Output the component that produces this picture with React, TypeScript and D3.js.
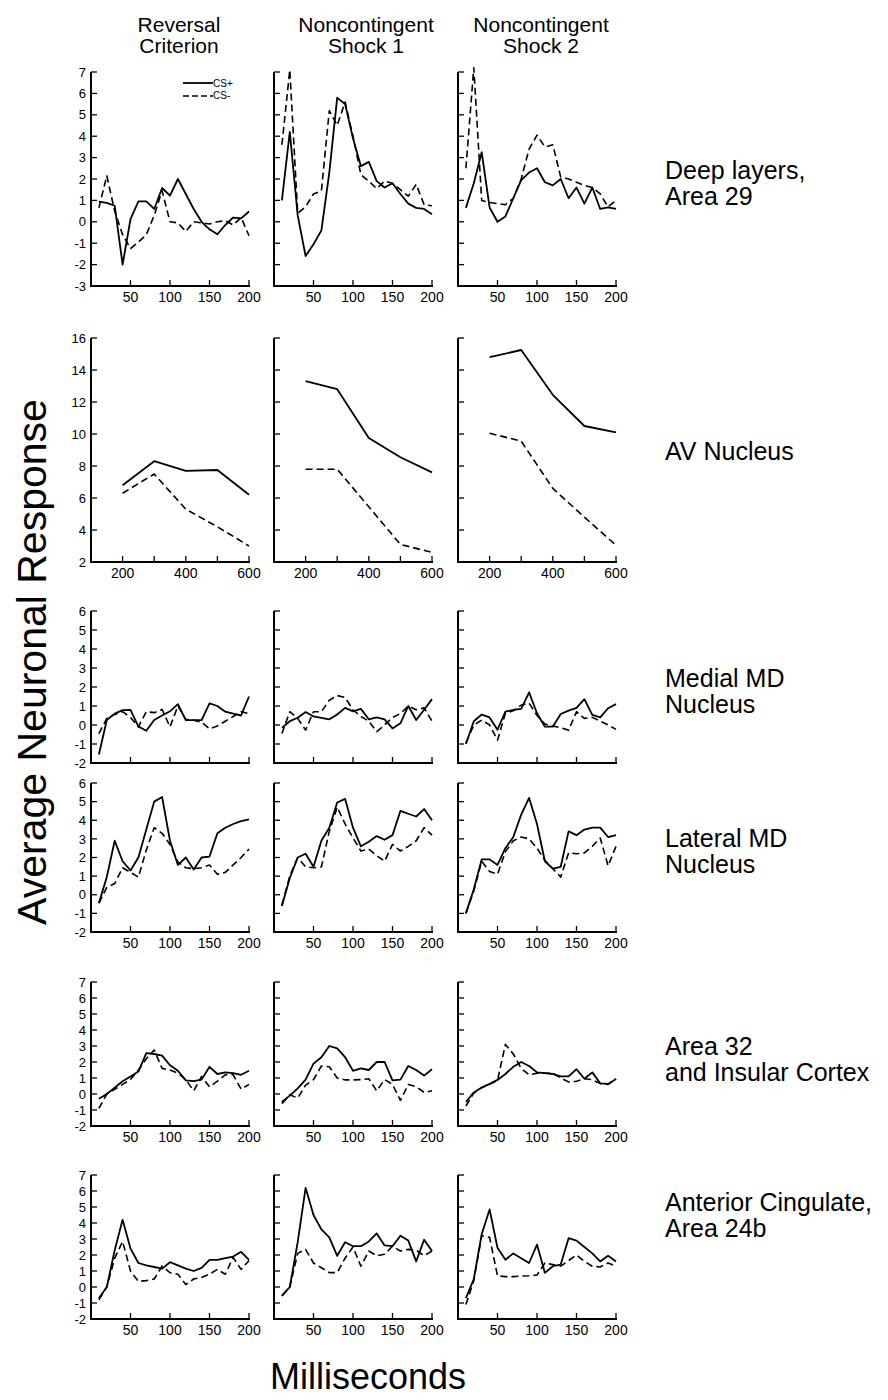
import React from 'react';
import * as d3 from 'd3';

// Time bins (ms after CS onset) for the short-latency panels
const msBins = [10, 20, 30, 40, 50, 60, 70, 80, 90, 100, 110, 120, 130, 140, 150, 160, 170, 180, 190, 200];
// Time bins (ms) for the AV nucleus panels
const avBins = [200, 300, 400, 500, 600];

const msTicks = [50, 100, 150, 200];
const avTicks = [200, 300, 400, 500, 600];
const avTickLabels = [200, 400, 600];

const columnTitles = [
  ['Reversal', 'Criterion'],
  ['Noncontingent', 'Shock 1'],
  ['Noncontingent', 'Shock 2'],
];

const rowLabels = [
  ['Deep layers,', 'Area 29'],
  ['AV Nucleus'],
  ['Medial MD', 'Nucleus'],
  ['Lateral MD', 'Nucleus'],
  ['Area 32', 'and Insular Cortex'],
  ['Anterior Cingulate,', 'Area 24b'],
];

// Deep layers, Area 29
const a29RevPlus = [0.94, 0.88, 0.75, -2.0, 0.12, 0.95, 0.95, 0.6, 1.58, 1.22, 2.0, 1.3, 0.6, 0.0, -0.35, -0.58, -0.15, 0.2, 0.16, 0.48];
const a29RevMinus = [0.65, 2.15, 0.5, -0.6, -1.25, -0.95, -0.6, 0.3, 1.45, 0.0, -0.05, -0.45, 0.0, -0.05, -0.1, 0.0, 0.05, -0.15, 0.2, -0.65];
const a29S1Plus = [1.0, 4.2, 0.3, -1.6, -1.05, -0.4, 2.3, 5.8, 5.5, 3.9, 2.6, 2.8, 1.9, 1.6, 1.8, 1.3, 0.85, 0.65, 0.6, 0.35];
const a29S1Minus = [3.6, 7.1, 0.4, 0.7, 1.3, 1.45, 5.2, 4.5, 5.6, 4.0, 2.2, 1.9, 1.55, 1.9, 1.8, 1.5, 1.2, 1.75, 0.8, 0.75];
const a29S2Plus = [0.65, 1.8, 3.25, 0.67, 0.0, 0.25, 1.1, 1.95, 2.3, 2.5, 1.85, 1.7, 2.0, 1.1, 1.6, 0.85, 1.6, 0.6, 0.67, 0.6];
const a29S2Minus = [2.5, 7.2, 1.0, 0.9, 0.85, 0.8, 1.1, 2.0, 3.4, 4.05, 3.5, 3.6, 2.1, 2.0, 1.85, 1.7, 1.6, 1.3, 0.7, 1.0];

// AV Nucleus
const avRevPlus = [6.8, 8.3, 7.7, 7.75, 6.2];
const avRevMinus = [6.3, 7.5, 5.3, 4.2, 3.0];
const avS1Plus = [13.3, 12.8, 9.75, 8.55, 7.6];
const avS1Minus = [7.8, 7.8, 5.45, 3.1, 2.6];
const avS2Plus = [14.8, 15.25, 12.45, 10.5, 10.1];
const avS2Minus = [10.05, 9.55, 6.6, 4.8, 3.05];

// Medial MD Nucleus
const mmdRevPlus = [-1.55, 0.26, 0.6, 0.78, 0.8, -0.08, -0.3, 0.26, 0.5, 0.72, 1.1, 0.26, 0.26, 0.26, 1.14, 1.0, 0.7, 0.6, 0.5, 1.5];
const mmdRevMinus = [-0.45, 0.35, 0.55, 0.7, 0.4, -0.1, 0.7, 0.65, 0.82, -0.1, 1.0, 0.3, 0.25, 0.15, -0.2, -0.05, 0.2, 0.45, 0.7, 0.6];
const mmdS1Plus = [-0.15, 0.2, 0.38, 0.68, 0.45, 0.38, 0.3, 0.55, 0.9, 0.72, 0.85, 0.3, 0.4, 0.3, -0.18, 0.09, 1.0, 0.26, 0.8, 1.36];
const mmdS1Minus = [-0.45, 0.7, 0.35, -0.27, 0.7, 0.7, 1.3, 1.55, 1.45, 0.8, 0.45, 0.2, -0.35, 0.0, 0.4, 0.6, 1.0, 0.8, 0.9, 0.2];
const mmdS2Plus = [-1.0, 0.2, 0.55, 0.4, -0.25, 0.7, 0.8, 0.85, 1.72, 0.62, -0.09, -0.09, 0.58, 0.76, 0.9, 1.36, 0.53, 0.4, 0.88, 1.1];
const mmdS2Minus = [-0.95, 0.0, 0.26, 0.0, -0.8, 0.62, 0.75, 1.05, 1.15, 0.5, 0.05, -0.05, -0.15, -0.27, 0.7, 0.35, 0.4, 0.2, 0.0, -0.23];

// Lateral MD Nucleus
const lmdRevPlus = [-0.45, 0.95, 2.9, 1.8, 1.3, 2.0, 3.5, 5.0, 5.25, 2.9, 1.6, 2.0, 1.35, 2.0, 2.05, 3.3, 3.6, 3.8, 3.95, 4.05];
const lmdRevMinus = [-0.45, 0.4, 0.6, 1.45, 1.2, 0.95, 2.4, 3.6, 3.3, 2.7, 1.75, 1.45, 1.4, 1.45, 1.6, 1.1, 1.2, 1.6, 2.0, 2.45];
const lmdS1Plus = [-0.6, 0.9, 2.0, 2.2, 1.5, 2.9, 3.6, 4.95, 5.15, 3.6, 2.6, 2.85, 3.15, 2.95, 3.2, 4.5, 4.35, 4.2, 4.6, 4.0];
const lmdS1Minus = [-0.55, 1.0, 2.0, 1.5, 1.45, 1.5, 3.4, 4.7, 3.8, 3.05, 2.35, 2.45, 2.1, 1.8, 2.7, 2.35, 2.6, 2.9, 3.6, 3.2];
const lmdS2Plus = [-1.0, 0.3, 1.9, 1.9, 1.6, 2.5, 3.1, 4.3, 5.2, 3.8, 1.8, 1.4, 1.5, 3.4, 3.2, 3.5, 3.6, 3.6, 3.1, 3.2];
const lmdS2Minus = [-1.0, 0.2, 1.8, 1.25, 1.1, 2.3, 2.9, 3.1, 3.0, 2.5, 1.85, 1.4, 0.95, 2.25, 2.2, 2.25, 2.6, 3.05, 1.55, 2.6];

// Area 32 and Insular Cortex
const a32RevPlus = [-0.3, 0.0, 0.4, 0.8, 1.1, 1.4, 2.55, 2.5, 2.4, 1.8, 1.45, 0.85, 0.8, 0.9, 1.7, 1.25, 1.35, 1.3, 1.2, 1.45];
const a32RevMinus = [-0.9, 0.0, 0.3, 0.6, 0.9, 1.5, 2.2, 2.75, 1.6, 1.5, 1.3, 0.9, 0.2, 1.1, 0.45, 0.8, 1.2, 1.2, 0.3, 0.6];
const a32S1Plus = [-0.5, -0.1, 0.35, 0.9, 1.9, 2.3, 3.0, 2.85, 2.3, 1.45, 1.6, 1.5, 2.0, 2.0, 0.85, 0.9, 1.75, 1.5, 1.15, 1.55];
const a32S1Minus = [-0.6, -0.05, -0.25, 0.55, 0.9, 1.75, 1.7, 1.0, 0.88, 0.88, 0.9, 0.95, 0.2, 0.9, 0.6, -0.4, 0.6, 0.45, 0.1, 0.2];
const a32S2Plus = [-0.5, 0.1, 0.4, 0.63, 0.88, 1.25, 1.7, 2.0, 1.75, 1.35, 1.3, 1.25, 1.1, 1.1, 1.55, 0.95, 1.35, 0.67, 0.63, 0.94];
const a32S2Minus = [-0.75, 0.05, 0.4, 0.6, 0.85, 3.1, 2.5, 1.6, 1.2, 1.3, 1.3, 1.3, 1.0, 0.75, 0.8, 0.95, 0.9, 0.65, 0.6, 0.95];

// Anterior Cingulate, Area 24b
const a24RevPlus = [-0.7, 0.0, 2.3, 4.2, 2.4, 1.5, 1.35, 1.25, 1.15, 1.55, 1.35, 1.15, 1.0, 1.2, 1.7, 1.7, 1.8, 1.9, 2.2, 1.7];
const a24RevMinus = [-0.8, 0.0, 1.8, 2.85, 1.0, 0.35, 0.4, 0.5, 1.3, 0.9, 0.8, 0.15, 0.5, 0.6, 0.8, 1.1, 0.8, 1.85, 1.1, 1.65];
const a24S1Plus = [-0.55, 0.0, 2.8, 6.2, 4.5, 3.6, 3.1, 1.95, 2.8, 2.55, 2.55, 2.85, 3.35, 2.6, 2.55, 3.2, 2.9, 1.6, 2.95, 2.25];
const a24S1Minus = [-0.55, 0.0, 2.1, 2.35, 1.5, 1.2, 0.9, 0.9, 1.8, 2.5, 1.3, 2.25, 1.95, 2.05, 2.55, 2.25, 2.35, 2.3, 1.95, 2.25];
const a24S2Plus = [-0.7, 0.5, 3.3, 4.85, 2.45, 1.7, 2.1, 1.8, 1.5, 2.65, 0.88, 1.3, 1.4, 3.05, 2.9, 2.5, 2.1, 1.6, 1.95, 1.6];
const a24S2Minus = [-1.1, 0.4, 3.2, 3.1, 0.7, 0.65, 0.65, 0.68, 0.7, 0.75, 1.5, 1.4, 1.3, 1.65, 2.0, 1.6, 1.3, 1.25, 1.5, 1.3];

const FONT = '"Liberation Sans", Arial, Helvetica, sans-serif';
const PANEL_W = 158;
const colX = [91, 274, 458];

type RowSpec = {
  top: number;
  bottom: number;
  yDomain: [number, number];
  yStep: number;
  xDomain: [number, number];
  xs: number[];
  xTicks: number[];
  xLabels: number[];
  series: [number[], number[]][];
  labelMid: number;
};

const rows: RowSpec[] = [
  { top: 72, bottom: 286, yDomain: [-3, 7], yStep: 1, xDomain: [0, 200], xs: msBins, xTicks: msTicks, xLabels: msTicks,
    series: [[a29RevPlus, a29RevMinus], [a29S1Plus, a29S1Minus], [a29S2Plus, a29S2Minus]], labelMid: 183 },
  { top: 338, bottom: 562, yDomain: [2, 16], yStep: 2, xDomain: [100, 600], xs: avBins, xTicks: avTicks, xLabels: avTickLabels,
    series: [[avRevPlus, avRevMinus], [avS1Plus, avS1Minus], [avS2Plus, avS2Minus]], labelMid: 451 },
  { top: 611, bottom: 763, yDomain: [-2, 6], yStep: 1, xDomain: [0, 200], xs: msBins, xTicks: msTicks, xLabels: [],
    series: [[mmdRevPlus, mmdRevMinus], [mmdS1Plus, mmdS1Minus], [mmdS2Plus, mmdS2Minus]], labelMid: 691 },
  { top: 783, bottom: 932, yDomain: [-2, 6], yStep: 1, xDomain: [0, 200], xs: msBins, xTicks: msTicks, xLabels: msTicks,
    series: [[lmdRevPlus, lmdRevMinus], [lmdS1Plus, lmdS1Minus], [lmdS2Plus, lmdS2Minus]], labelMid: 851 },
  { top: 982, bottom: 1126, yDomain: [-2, 7], yStep: 1, xDomain: [0, 200], xs: msBins, xTicks: msTicks, xLabels: msTicks,
    series: [[a32RevPlus, a32RevMinus], [a32S1Plus, a32S1Minus], [a32S2Plus, a32S2Minus]], labelMid: 1059 },
  { top: 1175, bottom: 1319, yDomain: [-2, 7], yStep: 1, xDomain: [0, 200], xs: msBins, xTicks: msTicks, xLabels: msTicks,
    series: [[a24RevPlus, a24RevMinus], [a24S1Plus, a24S1Minus], [a24S2Plus, a24S2Minus]], labelMid: 1215 },
];

function Panel({ row, col }: { row: RowSpec; col: number }) {
  const x0 = colX[col];
  const x = d3.scaleLinear().domain(row.xDomain).range([x0, x0 + PANEL_W]);
  const y = d3.scaleLinear().domain(row.yDomain).range([row.bottom, row.top]);
  const yTicks = d3.range(row.yDomain[0], row.yDomain[1] + 0.001, row.yStep);
  const [plus, minus] = row.series[col];
  const line = d3
    .line<number>()
    .x((_, i) => x(row.xs[i]))
    .y((v) => y(v));
  const tickLen = 6;
  return (
    <g>
      {/* axes */}
      <line x1={x0} x2={x0} y1={row.top} y2={row.bottom} stroke="#000" strokeWidth={2} />
      <line x1={x0 - 1} x2={x0 + PANEL_W + 1} y1={row.bottom} y2={row.bottom} stroke="#000" strokeWidth={2} />
      {yTicks.map((t) => (
        <g key={'y' + t}>
          <line x1={x0} x2={x0 + tickLen} y1={y(t)} y2={y(t)} stroke="#000" strokeWidth={1.3} />
          {col === 0 && (
            <text x={x0 - 5} y={y(t)} dy="0.36em" textAnchor="end" fontSize={13} fontFamily={FONT}>
              {t}
            </text>
          )}
        </g>
      ))}
      {row.xTicks.map((t) => (
        <line key={'x' + t} x1={x(t)} x2={x(t)} y1={row.bottom} y2={row.bottom - tickLen} stroke="#000" strokeWidth={1.3} />
      ))}
      {row.xLabels.map((t) => (
        <text key={'xl' + t} x={x(t)} y={row.bottom + 16} textAnchor="middle" fontSize={14} fontFamily={FONT}>
          {t}
        </text>
      ))}
      {/* CS- (dashed) and CS+ (solid) responses */}
      <path d={line(minus) || ''} fill="none" stroke="#000" strokeWidth={1.6} strokeDasharray="7,4" strokeLinejoin="round" />
      <path d={line(plus) || ''} fill="none" stroke="#000" strokeWidth={1.8} strokeLinejoin="round" />
    </g>
  );
}

const titleX = [179, 366, 541];

export default function App() {
  return (
    <svg
      width={888}
      height={1400}
      viewBox="0 0 888 1400"
      style={{ position: 'absolute', left: 0, top: 0, background: '#fff' }}
    >
      <rect x={0} y={0} width={888} height={1400} fill="#fff" />
      {columnTitles.map((lines, c) => (
        <text key={'t' + c} x={titleX[c]} textAnchor="middle" fontSize={21} fontFamily={FONT}>
          <tspan x={titleX[c]} y={32}>{lines[0]}</tspan>
          <tspan x={titleX[c]} y={53}>{lines[1]}</tspan>
        </text>
      ))}
      {rows.map((row, r) =>
        [0, 1, 2].map((c) => <Panel key={r + '-' + c} row={row} col={c} />)
      )}
      {/* legend */}
      <g fontFamily={FONT} fontSize={10}>
        <line x1={183} x2={213} y1={83} y2={83} stroke="#000" strokeWidth={1.8} />
        <text x={213} y={86.5}>CS+</text>
        <line x1={183} x2={213} y1={96} y2={96} stroke="#000" strokeWidth={1.6} strokeDasharray="6,3" />
        <text x={213} y={99}>CS-</text>
      </g>
      {rowLabels.map((lines, r) => {
        const gap = 26;
        const first = rows[r].labelMid + 9 - ((lines.length - 1) * gap) / 2;
        return (
          <text key={'r' + r} fontSize={25} fontFamily={FONT}>
            {lines.map((s, i) => (
              <tspan key={i} x={665} y={first + i * gap}>
                {s}
              </tspan>
            ))}
          </text>
        );
      })}
      <text
        transform="translate(46,662) rotate(-90)"
        textAnchor="middle"
        fontSize={41}
        fontFamily={FONT}
      >
        Average Neuronal Response
      </text>
      <text x={368} y={1389} textAnchor="middle" fontSize={36} fontFamily={FONT}>
        Milliseconds
      </text>
    </svg>
  );
}
